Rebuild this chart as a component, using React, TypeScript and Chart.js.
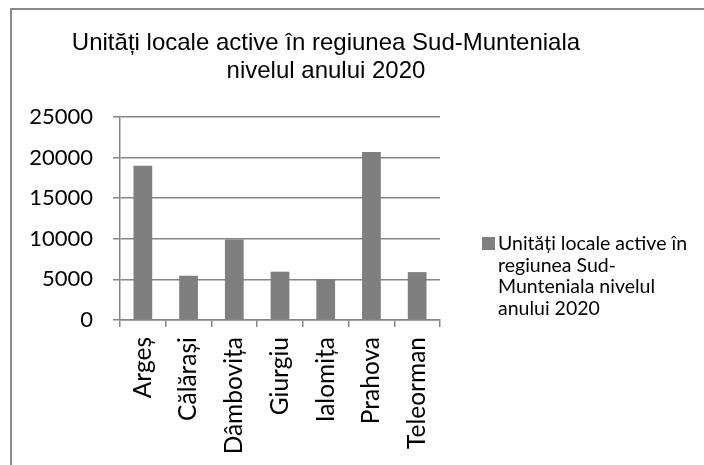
import React, { useEffect, useRef } from "react";
import { Chart, registerables } from "chart.js";

Chart.register(...registerables);

const categories = ["Argeș", "Călărași", "Dâmbovița", "Giurgiu", "Ialomița", "Prahova", "Teleorman"];
const values = [19000, 5450, 9900, 5950, 5050, 20700, 5900];
const seriesName = "Unități locale active în regiunea Sud-Munteniala nivelul anului 2020";
const titleLines = ["Unități locale active în regiunea Sud-Munteniala", "nivelul anului 2020"];
const legendLines = ["Unități locale active în", "regiunea Sud-", "Munteniala nivelul", "anului 2020"];
const yTicks = [0, 5000, 10000, 15000, 20000, 25000];

const GRAY = "#868686";
const BAR = "#7f7f7f";
const LABEL_FONT = "Lato, 'Open Sans', sans-serif";

const decorPlugin = {
  id: "decor",
  beforeDraw(chart: any) {
    const ctx = chart.ctx;
    ctx.save();
    ctx.fillStyle = "#ffffff";
    ctx.fillRect(0, 0, chart.width, chart.height);
    ctx.strokeStyle = "#898989";
    ctx.lineWidth = 2;
    ctx.strokeRect(11, 9, 1000, 1000);
    ctx.restore();
  },
  afterDraw(chart: any) {
    const ctx = chart.ctx;
    ctx.save();
    ctx.fillStyle = "#000000";
    ctx.textAlign = "center";
    ctx.textBaseline = "alphabetic";
    ctx.font = "24px 'Liberation Sans', Arial, sans-serif";
    ctx.fillText(titleLines[0], 326, 50);
    ctx.fillText(titleLines[1], 326, 78);
    // legend
    ctx.fillStyle = BAR;
    ctx.fillRect(482, 237, 13, 13);
    ctx.fillStyle = "#000000";
    ctx.textAlign = "left";
    ctx.font = "19.5px " + LABEL_FONT;
    legendLines.forEach((l, i) => ctx.fillText(l, 498, 250 + i * 21.7));
    ctx.restore();
  },
};

export default function App() {
  const ref = useRef<HTMLCanvasElement>(null);
  useEffect(() => {
    if (!ref.current) return;
    const chart = new Chart(ref.current, {
      type: "bar",
      data: {
        labels: categories,
        datasets: [
          {
            label: seriesName,
            data: values,
            backgroundColor: BAR,
            borderWidth: 0,
            categoryPercentage: 0.41,
            barPercentage: 1,
          },
        ],
      },
      options: {
        animation: false,
        responsive: false,
        maintainAspectRatio: false,
        devicePixelRatio: 1,
        layout: { padding: { left: 0, top: 117, right: 264, bottom: 0 } },
        plugins: {
          legend: { display: false },
          title: { display: false },
          tooltip: { enabled: false },
        },
        scales: {
          x: {
            offset: true,
            grid: {
              offset: true,
              drawOnChartArea: false,
              drawTicks: true,
              tickLength: 7,
              color: GRAY,
              lineWidth: 1.5,
            },
            border: { display: true, color: GRAY, width: 1.5 },
            ticks: {
              minRotation: 90,
              maxRotation: 90,
              autoSkip: false,
              padding: 10,
              color: "#000000",
              font: { family: LABEL_FONT, size: 24.5 },
            },
            afterFit(scale: any) {
              scale.height = 145;
            },
          },
          y: {
            min: 0,
            max: 25000,
            afterBuildTicks(scale: any) {
              scale.ticks = yTicks.map((v) => ({ value: v }));
            },
            grid: {
              color: GRAY,
              lineWidth: 1.5,
              drawTicks: true,
              tickLength: 7,
            },
            border: { display: true, color: GRAY, width: 1.5 },
            ticks: {
              padding: 20,
              color: "#000000",
              font: { family: LABEL_FONT, size: 22 },
              callback: (v: any) => String(v),
            },
            afterFit(scale: any) {
              scale.width = 120;
            },
          },
        },
      },
      plugins: [decorPlugin],
    });
    return () => chart.destroy();
  }, []);
  return (
    <div style={{ position: "fixed", left: 0, top: 0, width: 704, height: 465, background: "#fff" }}>
      <canvas ref={ref} width={704} height={465} style={{ width: 704, height: 465, display: "block" }} />
    </div>
  );
}
